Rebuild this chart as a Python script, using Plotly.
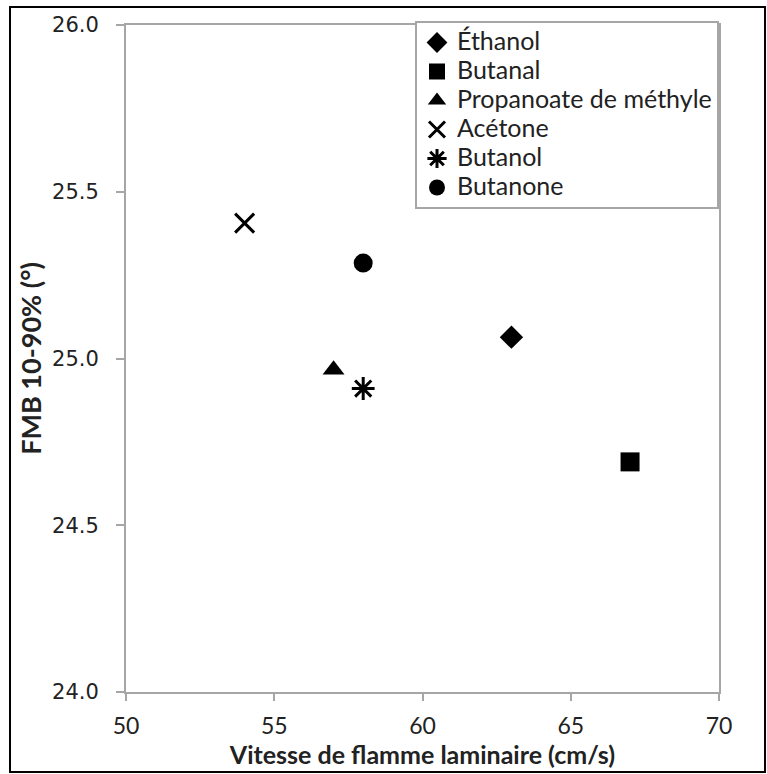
import plotly.graph_objects as go

names = ["Éthanol", "Butanal", "Propanoate de méthyle", "Acétone", "Butanol", "Butanone"]
flame_speed = [63, 67, 57, 54, 58, 58]
fmb = [25.064, 24.69, 24.966, 25.406, 24.91, 25.286]
symbols = ["diamond", "square", "triangle-up", "x-thin-open", "asterisk-open", "circle"]
sizes = [18, 19, 19, 19, 19, 19]

x_ticks = [50, 55, 60, 65, 70]
y_ticks = [24.0, 24.5, 25.0, 25.5, 26.0]
x_title = "Vitesse de flamme laminaire (cm/s)"
y_title = "FMB 10-90% (°)"

fig = go.Figure()
for n, xv, yv, s, sz in zip(names, flame_speed, fmb, symbols, sizes):
    open_sym = s.endswith("-open")
    fig.add_trace(go.Scatter(
        x=[xv], y=[yv], mode="markers",
        name='<span style="font-size:25px">' + n + "</span>",
        marker=dict(symbol=s, size=sz, color="black",
                    line=dict(color="black", width=3 if open_sym else 0)),
    ))

axis_col = "#a6a6a6"
txt_col = "#222222"
fig.update_layout(
    width=767, height=774,
    margin=dict(l=126, r=48, t=25, b=82),
    paper_bgcolor="white", plot_bgcolor="white",
    font=dict(family="Lato", color=txt_col, size=22),
    legend=dict(x=1, xanchor="right", y=1.006, yanchor="top",
                bordercolor=axis_col, borderwidth=2, bgcolor="white",
                font=dict(family="Lato", size=20, color=txt_col),
                itemwidth=30, tracegroupgap=0),
    xaxis=dict(range=[50, 70], tickvals=x_ticks, ticktext=[str(v) for v in x_ticks],
               showgrid=False, zeroline=False, showline=True, mirror=True,
               linecolor=axis_col, linewidth=2, ticks="outside", ticklen=7,
               tickcolor=axis_col, tickwidth=2, ticklabelstandoff=5,
               automargin=False,
               tickfont=dict(family="Lato", size=23, color=txt_col),
               title=dict(text="<b>" + x_title + "</b>", standoff=5,
                          font=dict(family="Lato", size=25, color=txt_col))),
    yaxis=dict(range=[24, 26], tickvals=y_ticks, ticktext=[f"{v:.1f}" for v in y_ticks],
               showgrid=False, zeroline=False, showline=True, mirror=True,
               linecolor=axis_col, linewidth=2, ticks="outside", ticklen=8,
               tickcolor=axis_col, tickwidth=2, ticklabelstandoff=13,
               automargin=False,
               tickfont=dict(family="DejaVu Sans", size=21, color=txt_col),
               title=dict(text="<b>" + y_title + "</b>", standoff=3,
                          font=dict(family="Lato", size=27, color=txt_col))),
)

fig.add_shape(type="rect", xref="paper", yref="paper",
              x0=-0.1956, x1=1.0776, y0=-0.12, y1=1.027,
              line=dict(color="black", width=2), fillcolor="rgba(0,0,0,0)", layer="above")

fig.write_html("out.html")
